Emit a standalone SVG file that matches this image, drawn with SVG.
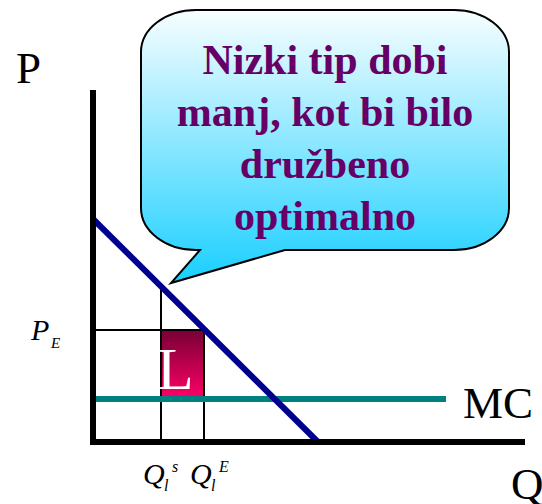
<svg xmlns="http://www.w3.org/2000/svg" width="542" height="504" viewBox="0 0 542 504">
<defs>
<linearGradient id="bubbleGrad" x1="0" y1="0" x2="0" y2="1">
<stop offset="0" stop-color="#f8feff"/>
<stop offset="1" stop-color="#19cfff"/>
</linearGradient>
<linearGradient id="lossGrad" x1="0" y1="0" x2="0" y2="1">
<stop offset="0" stop-color="#780034"/>
<stop offset="1" stop-color="#ff0068"/>
</linearGradient>
<style>
.axis{stroke:#000;stroke-width:6;fill:none}
.thin{stroke:#000;stroke-width:2;fill:none}
.lab{font-family:"Liberation Serif","Times New Roman",serif;fill:#000}
.it{font-style:italic}
.bub{font-family:"Liberation Serif","Times New Roman",serif;font-weight:bold;font-size:42px;fill:#660066;text-anchor:middle}
</style>
</defs>
<g id="connectors">
<line class="thin" x1="93" y1="330" x2="204" y2="330"/>
<line class="thin" x1="161" y1="285" x2="161" y2="442"/>
<line class="thin" x1="204" y1="330" x2="204" y2="442"/>
</g>
<g id="loss">
<rect x="161" y="330" width="43" height="69" fill="url(#lossGrad)" stroke="#000" stroke-width="2"/>
<text class="lab" x="157" y="389" font-size="60" style="fill:#fff">L</text>
</g>
<g id="mc">
<line x1="93" y1="399" x2="446" y2="399" stroke="#008080" stroke-width="6"/>
<text class="lab" x="463" y="418" font-size="45">MC</text>
</g>
<g id="demand">
<line x1="93" y1="219" x2="318" y2="442" stroke="#000090" stroke-width="6"/>
</g>
<g id="axes">
<line class="axis" x1="93" y1="90" x2="93" y2="445"/>
<line class="axis" x1="90" y1="442" x2="525" y2="442"/>
<text class="lab" x="16" y="83" font-size="45">P</text>
<text class="lab" x="511" y="499" font-size="45">Q</text>
</g>
<g id="pe-label">
<text class="lab it" x="31" y="340" font-size="30">P</text>
<text class="lab it" x="51" y="348" font-size="15">E</text>
</g>
<g id="q-labels">
<text class="lab it" x="143" y="484" font-size="30">Q</text>
<text class="lab it" x="164" y="491" font-size="16">l</text>
<text class="lab it" x="172" y="472" font-size="16">s</text>
<text class="lab it" x="190" y="484" font-size="30">Q</text>
<text class="lab it" x="211" y="491" font-size="16">l</text>
<text class="lab it" x="219" y="472" font-size="16">E</text>
</g>
<g id="bubble">
<path d="M196,10 H454 A55,42 0 0 1 509,52 V208 A55,42 0 0 1 454,250 H285 L171,283 L200,250 H196 A55,42 0 0 1 141,208 V52 A55,42 0 0 1 196,10 Z" fill="url(#bubbleGrad)" stroke="#000" stroke-width="2"/>
<text class="bub" x="325" y="74">Nizki tip dobi</text>
<text class="bub" x="325" y="126">manj, kot bi bilo</text>
<text class="bub" x="325" y="178">družbeno</text>
<text class="bub" x="325" y="230">optimalno</text>
</g>
</svg>
